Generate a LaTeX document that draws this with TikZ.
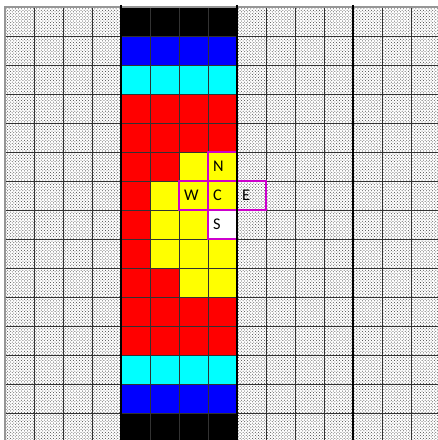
\documentclass[tikz,border=0pt]{standalone}
\usepackage{fontspec}
\setmainfont{Carlito}
\usetikzlibrary{patterns}
\definecolor{dotgray}{RGB}{70,70,70}
\definecolor{linegray}{RGB}{50,50,50}
\definecolor{edgegray}{RGB}{150,150,150}
\definecolor{probemag}{RGB}{205,0,205}
\definecolor{cellcyan}{RGB}{0,255,255}
\definecolor{cellblue}{RGB}{0,0,255}
\definecolor{cellred}{RGB}{255,0,0}
\definecolor{cellyellow}{RGB}{255,255,0}

\tikzset{
  tag/.style={anchor=west, inner sep=0pt, xshift=6pt, font=\fontsize{16}{18}\selectfont},
  probe/.style={draw=probemag, line width=2.2pt, minimum size=1cm, inner sep=0pt,
    label={[tag]west:#1}}
}

\begin{document}
\begin{tikzpicture}
\useasboundingbox (-0.17,0.24) rectangle (14.9,-14.93);

% Background (dotted cells)
\fill[white] (0,0) rectangle (15,-15);
\fill[pattern=crosshatch dots, pattern color=dotgray] (0,0) rectangle (15,-15);

% Coloured cells of columns 4-7, row by row
\foreach \r/\ca/\cb/\cc/\cd in {%
0/black/black/black/black, 1/cellblue/cellblue/cellblue/cellblue,
2/cellcyan/cellcyan/cellcyan/cellcyan, 3/cellred/cellred/cellred/cellred,
4/cellred/cellred/cellred/cellred, 5/cellred/cellred/cellyellow/cellyellow,
6/cellred/cellyellow/cellyellow/cellyellow, 7/cellred/cellyellow/cellyellow/white,
8/cellred/cellyellow/cellyellow/cellyellow, 9/cellred/cellred/cellyellow/cellyellow,
10/cellred/cellred/cellred/cellred, 11/cellred/cellred/cellred/cellred,
12/cellcyan/cellcyan/cellcyan/cellcyan, 13/cellblue/cellblue/cellblue/cellblue,
14/black/black/black/black} {
    \foreach \c/\col in {4/\ca,5/\cb,6/\cc,7/\cd} {
        \fill[fill=\col] (\c,-\r) rectangle ++(1,-1);
    }
}

% Grid
\draw[linegray, line width=0.6pt] (0,0) grid (15,-15);
\draw[edgegray, line width=1.2pt] (0,-15) -- (0,0) -- (15,0);

% Neighbourhood cells
\node[probe=N] (N) at (7.5,-5.5) {};
\node[probe=W] (W) at (6.5,-6.5) {};
\node[probe=C] (C) at (7.5,-6.5) {};
\node[probe=S] (S) at (7.5,-7.5) {};
\node[probe=E] (E) at (8.5,-6.5) {};

% Thick column borders
\foreach \x in {4,8,12} {
    \draw[line width=2.6pt] (\x,0.07) -- (\x,-15);
}

\end{tikzpicture}
\end{document}
